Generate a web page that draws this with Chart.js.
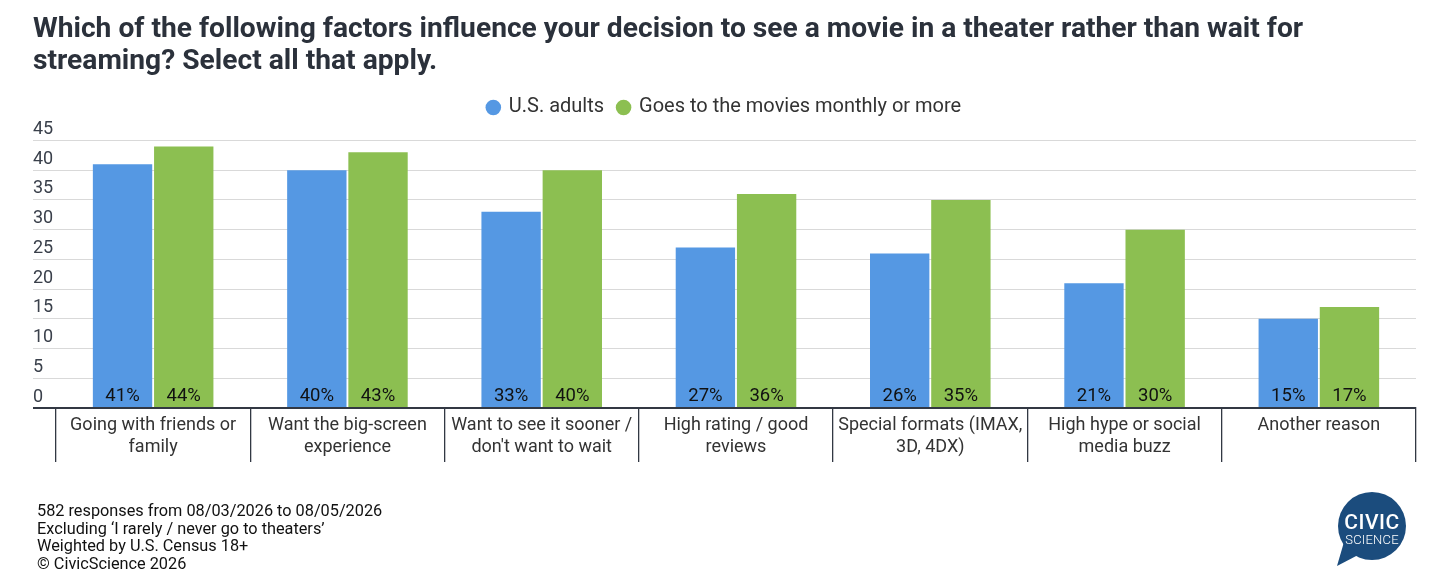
<!DOCTYPE html>
<html>
<head>
<meta charset="utf-8">
<script src="https://cdn.jsdelivr.net/npm/chart.js@4/dist/chart.umd.min.js"></script>
<style>
  html, body { margin: 0; padding: 0; background: #fff; }
  #wrap { position: relative; width: 1432px; height: 584px; font-family: Roboto, sans-serif; }
  #note { position: absolute; left: 37px; top: 502px; font-size: 16.3px; line-height: 17.5px; color: #111; }
  #logo { position: absolute; left: 1334px; top: 490px; }
</style>
</head>
<body>
<div id="wrap">
  <canvas id="movieChart" width="1432" height="584"></canvas>
  <div id="note">
    582 responses from 08/03/2026 to 08/05/2026<br>
    Excluding ‘I rarely / never go to theaters’<br>
    Weighted by U.S. Census 18+<br>
    © CivicScience 2026
  </div>
  <svg id="logo" width="80" height="80" viewBox="0 0 80 80">
    <circle cx="38" cy="36" r="34" fill="#1b4c7d"></circle>
    <path d="M10 52 L3 76 L26 64 Z" fill="#1b4c7d"></path>
    <text x="38" y="39" text-anchor="middle" fill="#fff" font-family="Roboto" font-weight="500" font-size="21" letter-spacing="0.5">CIVIC</text>
    <text x="38" y="54" text-anchor="middle" fill="#fff" font-family="Roboto" font-weight="300" font-size="13" letter-spacing="0.2">SCIENCE</text>
  </svg>
</div>
<script>
var categories = [
  ["Going with friends or", "family"],
  ["Want the big-screen", "experience"],
  ["Want to see it sooner /", "don't want to wait"],
  ["High rating / good", "reviews"],
  ["Special formats (IMAX,", "3D, 4DX)"],
  ["High hype or social", "media buzz"],
  "Another reason"
];
var usAdults = [41, 40, 33, 27, 26, 21, 15];
var monthlyGoers = [44, 43, 40, 36, 35, 30, 17];
var seriesNames = ["U.S. adults", "Goes to the movies monthly or more"];
var yTicks = [0, 5, 10, 15, 20, 25, 30, 35, 40, 45];

var blue = "#5598e3";
var green = "#8cbf51";
var axisDark = "#323843";

// percent labels sitting at the bottom of each bar
var barLabels = {
  id: "barLabels",
  afterDatasetsDraw: function (chart) {
    var ctx = chart.ctx;
    ctx.save();
    ctx.font = "18.5px Roboto";
    ctx.fillStyle = "#111";
    ctx.textAlign = "center";
    ctx.textBaseline = "middle";
    chart.data.datasets.forEach(function (ds, i) {
      chart.getDatasetMeta(i).data.forEach(function (bar, j) {
        ctx.fillText(ds.data[j] + "%", bar.x, bar.base - 11);
      });
    });
    ctx.restore();
  }
};

// extra room under the legend
var legendGap = {
  id: "legendGap",
  beforeInit: function (chart) {
    var fit = chart.legend.fit;
    chart.legend.fit = function () {
      fit.bind(chart.legend)();
      this.height += 13;
    };
  }
};

var ctx = document.getElementById("movieChart").getContext("2d");
var movieChart = new Chart(ctx, {
  type: "bar",
  data: {
    labels: categories,
    datasets: [
      { label: seriesNames[0], data: usAdults, backgroundColor: blue },
      { label: seriesNames[1], data: monthlyGoers, backgroundColor: green }
    ]
  },
  options: {
    responsive: false,
    animation: false,
    categoryPercentage: 0.63,
    barPercentage: 0.97,
    layout: { padding: { left: 33, right: 16, top: 0, bottom: 122 } },
    scales: {
      x: {
        grid: {
          offset: true,
          drawOnChartArea: false,
          tickLength: 54,
          color: axisDark,
          lineWidth: 1.3
        },
        border: { display: true, color: axisDark, width: 2 },
        ticks: {
          padding: -47,
          maxRotation: 0,
          autoSkip: false,
          color: "#333",
          font: { family: "Roboto", size: 18 }
        },
        afterFit: function (scale) { scale.height = 54; }
      },
      y: {
        min: 0,
        max: 45,
        afterBuildTicks: function (scale) {
          scale.ticks = yTicks.map(function (v) { return { value: v }; });
        },
        grid: {
          tickLength: 23,
          color: function (c) { return c.tick && c.tick.value === 0 ? axisDark : "#d9d9d9"; },
          lineWidth: function (c) { return c.tick && c.tick.value === 0 ? 2 : 1; }
        },
        border: { display: false },
        ticks: {
          crossAlign: "far",
          labelOffset: -11,
          padding: 0,
          color: "#3a404b",
          font: { family: "Roboto", size: 18 }
        },
        afterFit: function (scale) { scale.width = 23; }
      }
    },
    plugins: {
      title: {
        display: true,
        align: "start",
        text: [
          "Which of the following factors influence your decision to see a movie in a theater rather than wait for",
          "streaming? Select all that apply."
        ],
        color: "#2b313b",
        font: { family: "Roboto", size: 28.2, weight: "bold", lineHeight: 1.143 },
        padding: { top: 14, bottom: 5 }
      },
      legend: {
        display: true,
        position: "top",
        labels: {
          usePointStyle: true,
          pointStyle: "circle",
          boxWidth: 11,
          boxHeight: 11,
          padding: 14,
          color: "#333",
          font: { family: "Roboto", size: 20 }
        }
      },
      tooltip: { enabled: false }
    }
  },
  plugins: [barLabels, legendGap]
});
</script>
</body>
</html>
